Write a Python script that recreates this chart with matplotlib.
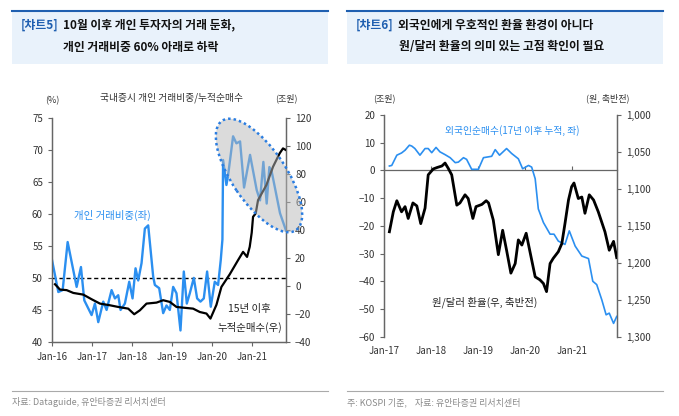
import matplotlib
matplotlib.use("Agg")
import matplotlib.pyplot as plt
from matplotlib.patches import Ellipse, Rectangle
from matplotlib.lines import Line2D
from matplotlib.ticker import FuncFormatter

plt.rcParams['font.family'] = ['Noto Sans CJK KR', 'DejaVu Sans']

BLUE = '#2b8ff0'
GRAY = '#666666'
TXT = '#333333'

# ---- chart 5: individual share (%) and cumulative net buy (trillion won), x = months since Jan-16
share_m = [0, 1.9, 3.2, 4.7, 7.4, 8.7, 9.7, 11.9, 12.9, 13.9, 15.4, 16.4, 17.9, 18.9, 19.9,
           20.6, 21.9, 23.2, 24.2, 25.1, 25.9, 26.9, 27.9, 28.9, 30.4, 30.9, 32.2, 33.4, 34.4,
           35.4, 36.4, 37.4, 38.6, 39.6, 40.5, 41.4, 42.6, 43.6, 44.6, 45.6, 46.6, 47.7, 48.9,
           49.9, 50.7, 51.2, 51.4, 52.4, 52.9, 54.4, 55.4, 56.5, 57.7, 59.5, 61.5, 62.5, 63.5,
           64.5, 65.3, 66.0, 68.5, 70.3]
share = [52.8, 47.8, 48.1, 55.6, 48.6, 51.7, 46.5, 44.2, 46.0, 43.1, 46.3, 45.0, 48.1, 46.8, 47.3,
         45.0, 46.0, 49.4, 46.8, 51.5, 49.6, 52.3, 57.7, 58.2, 50.2, 48.9, 48.4, 44.5, 45.7,
         45.0, 48.6, 47.6, 41.8, 51.0, 46.0, 47.6, 50.0, 46.8, 46.3, 46.8, 51.0, 45.5, 49.4,
         48.9, 52.8, 56.0, 68.4, 64.5, 66.0, 72.1, 71.0, 71.3, 64.1, 69.2, 63.7, 62.1, 68.1,
         61.6, 67.3, 66.6, 60.1, 57.4]
netbuy_m = [0.9, 2.4, 4.4, 6.4, 9.4, 11.9, 14.4, 17.4, 19.9, 22.9, 24.7, 26.4, 28.4, 31.4, 33.4,
            35.4, 37.4, 39.4, 42.4, 44.4, 46.4, 47.6, 49.4, 50.9, 53.4, 55.9, 57.4, 58.6, 59.4,
            60.0, 60.4, 61.2, 61.9, 64.4, 66.4, 68.4, 69.4, 70.3]
netbuy = [1.2, -2.6, -3.0, -5.0, -6.2, -9.5, -12.6, -13.8, -15.0, -16.2, -20.2, -17.4, -12.6,
          -11.9, -10.2, -11.4, -15.0, -15.5, -16.2, -18.6, -19.7, -23.3, -13.5, -0.7, 8.3, 18.4,
          24.3, 20.7, 27.9, 38.0, 49.3, 51.7, 61.2, 71.9, 85.0, 94.6, 98.1, 96.9]
years5 = ['Jan-16', 'Jan-17', 'Jan-18', 'Jan-19', 'Jan-20', 'Jan-21']

# ---- chart 6: foreign net buy (trillion won) and KRW/USD, x = months since Jan-17
fgn_m = [1.3, 1.9, 3.2, 4.4, 5.3, 6.4, 7.0, 7.8, 9.1, 10.4, 11.2, 12.1, 13.2, 14.2, 15.5, 16.8,
         18.1, 18.9, 20.2, 21.0, 22.3, 24.0, 25.3, 27.4, 28.3, 29.4, 31.2, 32.5, 34.2, 35.3, 36.8,
         37.6, 38.5, 39.3, 40.6, 42.3, 43.3, 44.4, 46.1, 47.2, 48.7, 50.4, 52.1, 53.2, 54.2, 55.5,
         56.6, 57.4, 58.5, 59.3]
fgn = [1.6, 1.8, 5.5, 6.3, 7.3, 9.1, 8.8, 7.9, 5.5, 7.9, 7.9, 6.4, 8.3, 6.7, 5.7, 4.6,
       2.8, 3.0, 4.6, 4.0, 0.4, 0.4, 4.6, 5.1, 7.5, 5.5, 7.9, 6.1, 4.2, 0.6, 1.8,
       1.2, -3.0, -13.9, -18.8, -23.0, -23.0, -25.5, -26.7, -21.8, -27.3, -30.9, -31.8, -40.0,
       -41.2, -46.7, -52.1, -51.5, -55.2, -52.7]
fx_m = [1.3, 2.3, 3.2, 4.4, 5.3, 6.1, 7.3, 8.3, 9.3, 10.4, 11.2, 12.5, 13.5, 14.7, 15.5, 16.3,
        17.2, 18.5, 19.3, 20.6, 21.4, 22.6, 23.4, 24.9, 26.0, 26.6, 27.8, 29.1, 30.2, 31.2, 32.3,
        33.4, 34.2, 35.1, 36.2, 37.6, 38.5, 39.7, 40.6, 41.4, 42.3, 43.1, 44.4, 45.3, 46.1, 47.0,
        47.8, 48.4, 49.5, 50.4, 51.2, 52.3, 53.4, 54.6, 56.3, 57.4, 58.5, 59.3]
fx = [1158, 1131, 1116, 1131, 1124, 1140, 1119, 1123, 1147, 1126, 1081, 1073, 1071, 1069, 1065,
      1072, 1081, 1122, 1119, 1108, 1113, 1140, 1124, 1121, 1116, 1119, 1142, 1189, 1156, 1183,
      1214, 1201, 1169, 1176, 1160, 1196, 1219, 1223, 1228, 1239, 1201, 1194, 1185, 1174, 1147,
      1115, 1097, 1092, 1113, 1111, 1133, 1108, 1115, 1131, 1158, 1183, 1171, 1193]
years6 = ['Jan-17', 'Jan-18', 'Jan-19', 'Jan-20', 'Jan-21']

W, H = 679, 416
fig = plt.figure(figsize=(W / 100, H / 100), dpi=100)


def fx_(px):
    return px / W


def fy_(py):
    return 1 - py / H


# header boxes, titles, footers
def header(x0, x1, tag, line1, line2, x2):
    fig.patches.append(Rectangle((fx_(x0), fy_(64)), fx_(x1 - x0), (64 - 11) / H,
                                 transform=fig.transFigure, facecolor='#e9f2fb', edgecolor='none'))
    fig.lines.append(Line2D([fx_(x0), fx_(x1)], [fy_(11), fy_(11)], transform=fig.transFigure,
                            color='#1f5fb0', lw=1.5))
    fig.text(fx_(x0 + 9), fy_(25), tag, color='#1f5fb0', fontsize=8.5, fontweight='bold',
             va='center', ha='left')
    fig.text(fx_(x0 + 9 + 42), fy_(25), line1, color='#111111', fontsize=8.5,
             fontweight='bold', va='center', ha='left')
    fig.text(fx_(x2), fy_(47), line2, color='#111111', fontsize=8.5, fontweight='bold',
             va='center', ha='left')


header(12, 328, '[챠트5]', '10월 이후 개인 투자자의 거래 둔화,', '개인 거래비중 60% 아래로 하락', 63)
header(347, 663, '[챠트6]', '외국인에게 우호적인 환율 환경이 아니다', '원/달러 환율의 의미 있는 고점 확인이 필요', 399)

for x0, x1, txt in [(12, 328, '자료: Dataguide, 유안타증권 리서치센터'),
                    (347, 663, '주: KOSPI 기준,    자료: 유안타증권 리서치센터')]:
    fig.lines.append(Line2D([fx_(x0), fx_(x1)], [fy_(391), fy_(391)], transform=fig.transFigure,
                            color='#aaaaaa', lw=0.8))
    fig.text(fx_(x0), fy_(402), txt, color='#8a8a8a', fontsize=6.5, va='center', ha='left')

# ---------------- chart 5
ax = fig.add_axes([fx_(52), fy_(342), fx_(234), 224.3 / H])
ax2 = ax.twinx()
ax.plot(share_m, share, color=BLUE, lw=1.7, zorder=3)
ax.axhline(50, color='black', lw=1, ls=(0, (3, 2)), zorder=2)
ax2.plot(netbuy_m, netbuy, color='black', lw=1.6, zorder=3)
ax.set_xlim(0, 70.3)
ax.set_ylim(40, 75)
ax2.set_ylim(-40, 120)
ax.set_yticks(range(40, 76, 5))
ax2.set_yticks(range(-40, 121, 20))
ax.set_xticks([12 * i for i in range(len(years5))])
ax.set_xticklabels(years5)
for a in (ax, ax2):
    a.spines['top'].set_visible(False)
    for s in ('left', 'right', 'bottom'):
        a.spines[s].set_color(GRAY)
        a.spines[s].set_linewidth(0.9)
    a.tick_params(colors=GRAY, labelcolor=TXT, labelsize=7, length=3, width=0.8)
ax.tick_params(axis='x', pad=4)

# highlight ellipse (drawn in inches so it keeps its shape)
ell = Ellipse((259 / 100, (H - 175.5) / 100), 1.32, 0.54, angle=-56,
              transform=fig.dpi_scale_trans, facecolor=(0.72, 0.72, 0.72, 0.5),
              edgecolor='#2a7de1', lw=1.8, ls=(0, (1, 1.2)), zorder=5, clip_on=False)
ax2.add_patch(ell)

fig.text(fx_(52), fy_(101), '(%)', fontsize=6.5, color=TXT, ha='center', va='center')
fig.text(fx_(172), fy_(98), '국내증시 개인 거래비중/누적순매수', fontsize=7, color=TXT,
         ha='center', va='center')
fig.text(fx_(286), fy_(98), '(조원)', fontsize=6.5, color=TXT, ha='center', va='center')
fig.text(fx_(112), fy_(215), '개인 거래비중(좌)', fontsize=7.5, color=BLUE, ha='center', va='center')
fig.text(fx_(249), fy_(309), '15년 이후', fontsize=7.5, color='#222222', ha='center', va='center')
fig.text(fx_(250), fy_(327), '누적순매수(우)', fontsize=7.5, color='#222222', ha='center', va='center')

# ---------------- chart 6
bx = fig.add_axes([fx_(384.3), fy_(336.7), fx_(232.4), 221.7 / H])
bx2 = bx.twinx()
bx.plot(fgn_m, fgn, color=BLUE, lw=1.2, zorder=3)
bx2.plot(fx_m, fx, color='black', lw=2.0, zorder=3)
bx.set_xlim(0, 59.3)
bx.set_ylim(-60, 20)
bx2.set_ylim(1300, 1000)
bx.set_yticks(range(-60, 21, 10))
bx2.set_yticks(range(1000, 1301, 50))
bx2.yaxis.set_major_formatter(FuncFormatter(lambda v, p: f'{int(v):,}'))
bx.set_xticks([12 * i for i in range(len(years6))])
bx.set_xticklabels([])
for a in (bx, bx2):
    a.spines['top'].set_visible(False)
    a.spines['bottom'].set_position(('data', 0))
    for s in ('left', 'right', 'bottom'):
        a.spines[s].set_color(GRAY)
        a.spines[s].set_linewidth(0.9)
    a.tick_params(colors=GRAY, labelcolor=TXT, labelsize=7, length=3, width=0.8)
bx2.spines['bottom'].set_visible(False)
bx.tick_params(axis='x', direction='in', length=3)
for i, lab in enumerate(years6):
    bx.text(12 * i, -0.065, lab, transform=bx.get_xaxis_transform(), fontsize=7, color=TXT,
            ha='center', va='center')

fig.text(fx_(384.5), fy_(98), '(조원)', fontsize=6.5, color=TXT, ha='center', va='center')
fig.text(fx_(608), fy_(98), '(원, 축반전)', fontsize=6.5, color=TXT, ha='center', va='center')
fig.text(fx_(512), fy_(131), '외국인순매수(17년 이후 누적, 좌)', fontsize=7, color=BLUE,
         ha='center', va='center')
fig.text(fx_(485), fy_(302), '원/달러 환율(우, 축반전)', fontsize=7.5, color='#222222',
         ha='center', va='center')

fig.savefig('out.png', dpi=100)
